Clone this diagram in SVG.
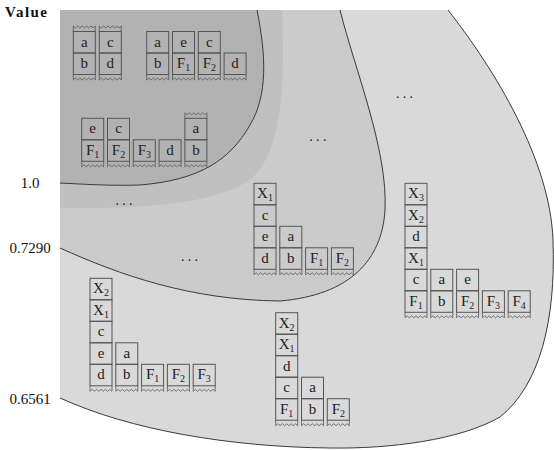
<svg xmlns="http://www.w3.org/2000/svg" xmlns:xlink="http://www.w3.org/1999/xlink" width="554" height="450" viewBox="0 0 554 450">
<defs>
<style>
.lbl{font-family:"Liberation Serif","DejaVu Serif",serif;font-size:15px;fill:#111}
.bd{fill:none;stroke:#3a3a3a;stroke-width:1}
.c{fill:none;stroke:#555555;stroke-width:1}
.z{fill:none;stroke:#555555;stroke-width:0.8}
.t{font-family:"Liberation Serif","DejaVu Serif",serif;font-size:15px;fill:#222;text-anchor:middle}
.s{font-size:10px}
.dots{font-family:"Liberation Serif",serif;font-size:14px;fill:#222;letter-spacing:3.3px}
</style>
<path id="zb" d="M0,0 V5.5 L2.2,3.5 L4.4,5.5 L6.6,3.5 L8.8,5.5 L11,3.5 L13.2,5.5 L15.4,3.5 L17.6,5.5 L19.8,3.5 L22,5.5 V0"/>
<path id="zt" d="M0,0 V-5.5 L2.2,-3.5 L4.4,-5.5 L6.6,-3.5 L8.8,-5.5 L11,-3.5 L13.2,-5.5 L15.4,-3.5 L17.6,-5.5 L19.8,-3.5 L22,-5.5 V0"/>
</defs>
<rect width="554" height="450" fill="#ffffff"/>
<g id="regions">
<path fill="#d9d9d9" d="M60,10 H448 C495,70 550,160 553,240 C556,320 540,385 500,417 C460,440 390,449 330,448 C230,447 130,430 60,398 Z"/>
<path fill="#cbcbcb" d="M60,10 H340 C355,70 388,150 385,210 C382,260 350,295 280,301 C190,300 120,275 60,248 Z"/>
<path fill="#c0c0c0" d="M60,10 H282 C285,80 283,150 252,178 C220,203 150,209 60,208 Z"/>
<path fill="#b2b2b2" d="M60,10 H257 C266,55 268,95 250,125 C230,160 200,180 140,185 C110,186 80,184 60,183 Z"/>
</g>
<g id="connectors">
<path class="bd" d="M448,10 C495,70 550,160 553,240 C556,320 540,385 500,417 C460,440 390,449 330,448 C230,447 130,430 60,398"/>
<path class="bd" d="M340,10 C355,70 388,150 385,210 C382,260 350,295 280,301 C190,300 120,275 60,248"/>
<path class="bd" d="M257,10 C266,55 268,95 250,125 C230,160 200,180 140,185 C110,186 80,184 60,183"/>
</g>
<g id="labels">
<text class="lbl" x="5" y="17" font-weight="bold" textLength="42">Value</text>
<text class="lbl" x="30" y="188" text-anchor="middle">1.0</text>
<text class="lbl" x="30" y="253" text-anchor="middle">0.7290</text>
<text class="lbl" x="30" y="404" text-anchor="middle">0.6561</text>
<text class="dots" x="115.5" y="204.5">...</text>
<text class="dots" x="181" y="261.3">...</text>
<text class="dots" x="309.3" y="140.5">...</text>
<text class="dots" x="396" y="98">...</text>
</g>
<!-- Group 1 -->
<g id="g1s1">
<use href="#zt" class="z" x="73.3" y="31.5"/>
<rect class="c" x="73.3" y="31.5" width="22" height="21.5"/><text class="t" x="84.3" y="46.5">a</text>
<rect class="c" x="73.3" y="53" width="22" height="21.5"/><text class="t" x="84.3" y="68">b</text>
<use href="#zb" class="z" x="73.3" y="74.5"/>
</g>
<g id="g1s2">
<use href="#zt" class="z" x="99.3" y="31.5"/>
<rect class="c" x="99.3" y="31.5" width="22" height="21.5"/><text class="t" x="110.3" y="46.5">c</text>
<rect class="c" x="99.3" y="53" width="22" height="21.5"/><text class="t" x="110.3" y="68">d</text>
<use href="#zb" class="z" x="99.3" y="74.5"/>
</g>
<!-- Group 2 -->
<g id="g2s1">
<rect class="c" x="146.7" y="31.5" width="22" height="21.5"/><text class="t" x="157.7" y="46.5">a</text>
<rect class="c" x="146.7" y="53" width="22" height="21.5"/><text class="t" x="157.7" y="68">b</text>
<use href="#zb" class="z" x="146.7" y="74.5"/>
</g>
<g id="g2s2">
<rect class="c" x="172.5" y="31.5" width="22" height="21.5"/><text class="t" x="183.5" y="46.5">e</text>
<rect class="c" x="172.5" y="53" width="22" height="21.5"/><text class="t" x="183.5" y="68">F<tspan class="s" dy="3">1</tspan></text>
<use href="#zb" class="z" x="172.5" y="74.5"/>
</g>
<g id="g2s3">
<rect class="c" x="198.3" y="31.5" width="22" height="21.5"/><text class="t" x="209.3" y="46.5">c</text>
<rect class="c" x="198.3" y="53" width="22" height="21.5"/><text class="t" x="209.3" y="68">F<tspan class="s" dy="3">2</tspan></text>
<use href="#zb" class="z" x="198.3" y="74.5"/>
</g>
<g id="g2s4">
<rect class="c" x="224.1" y="53" width="22" height="21.5"/><text class="t" x="235.1" y="68">d</text>
<use href="#zb" class="z" x="224.1" y="74.5"/>
</g>
<!-- Group 3 -->
<g id="g3s1">
<rect class="c" x="81.7" y="118.3" width="22" height="21.5"/><text class="t" x="92.7" y="133.3">e</text>
<rect class="c" x="81.7" y="139.8" width="22" height="21.5"/><text class="t" x="92.7" y="154.8">F<tspan class="s" dy="3">1</tspan></text>
<use href="#zb" class="z" x="81.7" y="161.3"/>
</g>
<g id="g3s2">
<rect class="c" x="107.5" y="118.3" width="22" height="21.5"/><text class="t" x="118.5" y="133.3">c</text>
<rect class="c" x="107.5" y="139.8" width="22" height="21.5"/><text class="t" x="118.5" y="154.8">F<tspan class="s" dy="3">2</tspan></text>
<use href="#zb" class="z" x="107.5" y="161.3"/>
</g>
<g id="g3s3">
<rect class="c" x="133.3" y="139.8" width="22" height="21.5"/><text class="t" x="144.3" y="154.8">F<tspan class="s" dy="3">3</tspan></text>
<use href="#zb" class="z" x="133.3" y="161.3"/>
</g>
<g id="g3s4">
<rect class="c" x="159.1" y="139.8" width="22" height="21.5"/><text class="t" x="170.1" y="154.8">d</text>
<use href="#zb" class="z" x="159.1" y="161.3"/>
</g>
<g id="g3s5">
<use href="#zt" class="z" x="184.9" y="118.3"/>
<rect class="c" x="184.9" y="118.3" width="22" height="21.5"/><text class="t" x="195.9" y="133.3">a</text>
<rect class="c" x="184.9" y="139.8" width="22" height="21.5"/><text class="t" x="195.9" y="154.8">b</text>
<use href="#zb" class="z" x="184.9" y="161.3"/>
</g>
<!-- Group 4 -->
<g id="g4s1">
<rect class="c" x="254" y="183.3" width="22" height="21.5"/><text class="t" x="265" y="198.3">X<tspan class="s" dy="3">1</tspan></text>
<rect class="c" x="254" y="204.8" width="22" height="21.5"/><text class="t" x="265" y="219.8">c</text>
<rect class="c" x="254" y="226.3" width="22" height="21.5"/><text class="t" x="265" y="241.3">e</text>
<rect class="c" x="254" y="247.8" width="22" height="21.5"/><text class="t" x="265" y="262.8">d</text>
<use href="#zb" class="z" x="254" y="269.3"/>
</g>
<g id="g4s2">
<rect class="c" x="279.8" y="226.3" width="22" height="21.5"/><text class="t" x="290.8" y="241.3">a</text>
<rect class="c" x="279.8" y="247.8" width="22" height="21.5"/><text class="t" x="290.8" y="262.8">b</text>
<use href="#zb" class="z" x="279.8" y="269.3"/>
</g>
<g id="g4s3">
<rect class="c" x="305.6" y="247.8" width="22" height="21.5"/><text class="t" x="316.6" y="262.8">F<tspan class="s" dy="3">1</tspan></text>
<use href="#zb" class="z" x="305.6" y="269.3"/>
</g>
<g id="g4s4">
<rect class="c" x="331.4" y="247.8" width="22" height="21.5"/><text class="t" x="342.4" y="262.8">F<tspan class="s" dy="3">2</tspan></text>
<use href="#zb" class="z" x="331.4" y="269.3"/>
</g>
<!-- Group 5 -->
<g id="g5s1">
<rect class="c" x="405" y="183.3" width="22" height="21.5"/><text class="t" x="416" y="198.3">X<tspan class="s" dy="3">3</tspan></text>
<rect class="c" x="405" y="204.8" width="22" height="21.5"/><text class="t" x="416" y="219.8">X<tspan class="s" dy="3">2</tspan></text>
<rect class="c" x="405" y="226.3" width="22" height="21.5"/><text class="t" x="416" y="241.3">d</text>
<rect class="c" x="405" y="247.8" width="22" height="21.5"/><text class="t" x="416" y="262.8">X<tspan class="s" dy="3">1</tspan></text>
<rect class="c" x="405" y="269.3" width="22" height="21.5"/><text class="t" x="416" y="284.3">c</text>
<rect class="c" x="405" y="290.8" width="22" height="21.5"/><text class="t" x="416" y="305.8">F<tspan class="s" dy="3">1</tspan></text>
<use href="#zb" class="z" x="405" y="312.3"/>
</g>
<g id="g5s2">
<rect class="c" x="430.8" y="269.3" width="22" height="21.5"/><text class="t" x="441.8" y="284.3">a</text>
<rect class="c" x="430.8" y="290.8" width="22" height="21.5"/><text class="t" x="441.8" y="305.8">b</text>
<use href="#zb" class="z" x="430.8" y="312.3"/>
</g>
<g id="g5s3">
<rect class="c" x="456.6" y="269.3" width="22" height="21.5"/><text class="t" x="467.6" y="284.3">e</text>
<rect class="c" x="456.6" y="290.8" width="22" height="21.5"/><text class="t" x="467.6" y="305.8">F<tspan class="s" dy="3">2</tspan></text>
<use href="#zb" class="z" x="456.6" y="312.3"/>
</g>
<g id="g5s4">
<rect class="c" x="482.4" y="290.8" width="22" height="21.5"/><text class="t" x="493.4" y="305.8">F<tspan class="s" dy="3">3</tspan></text>
<use href="#zb" class="z" x="482.4" y="312.3"/>
</g>
<g id="g5s5">
<rect class="c" x="508.2" y="290.8" width="22" height="21.5"/><text class="t" x="519.2" y="305.8">F<tspan class="s" dy="3">4</tspan></text>
<use href="#zb" class="z" x="508.2" y="312.3"/>
</g>
<!-- Group 6 -->
<g id="g6s1">
<rect class="c" x="275.7" y="312.7" width="22" height="21.5"/><text class="t" x="286.7" y="327.7">X<tspan class="s" dy="3">2</tspan></text>
<rect class="c" x="275.7" y="334.2" width="22" height="21.5"/><text class="t" x="286.7" y="349.2">X<tspan class="s" dy="3">1</tspan></text>
<rect class="c" x="275.7" y="355.7" width="22" height="21.5"/><text class="t" x="286.7" y="370.7">d</text>
<rect class="c" x="275.7" y="377.2" width="22" height="21.5"/><text class="t" x="286.7" y="392.2">c</text>
<rect class="c" x="275.7" y="398.7" width="22" height="21.5"/><text class="t" x="286.7" y="413.7">F<tspan class="s" dy="3">1</tspan></text>
<use href="#zb" class="z" x="275.7" y="420.2"/>
</g>
<g id="g6s2">
<rect class="c" x="301.5" y="377.2" width="22" height="21.5"/><text class="t" x="312.5" y="392.2">a</text>
<rect class="c" x="301.5" y="398.7" width="22" height="21.5"/><text class="t" x="312.5" y="413.7">b</text>
<use href="#zb" class="z" x="301.5" y="420.2"/>
</g>
<g id="g6s3">
<rect class="c" x="327.3" y="398.7" width="22" height="21.5"/><text class="t" x="338.3" y="413.7">F<tspan class="s" dy="3">2</tspan></text>
<use href="#zb" class="z" x="327.3" y="420.2"/>
</g>
<!-- Group 7 -->
<g id="g7s1">
<rect class="c" x="90" y="278.3" width="22" height="21.5"/><text class="t" x="101" y="293.3">X<tspan class="s" dy="3">2</tspan></text>
<rect class="c" x="90" y="299.8" width="22" height="21.5"/><text class="t" x="101" y="314.8">X<tspan class="s" dy="3">1</tspan></text>
<rect class="c" x="90" y="321.3" width="22" height="21.5"/><text class="t" x="101" y="336.3">c</text>
<rect class="c" x="90" y="342.8" width="22" height="21.5"/><text class="t" x="101" y="357.8">e</text>
<rect class="c" x="90" y="364.3" width="22" height="21.5"/><text class="t" x="101" y="379.3">d</text>
<use href="#zb" class="z" x="90" y="385.8"/>
</g>
<g id="g7s2">
<rect class="c" x="115.8" y="342.8" width="22" height="21.5"/><text class="t" x="126.8" y="357.8">a</text>
<rect class="c" x="115.8" y="364.3" width="22" height="21.5"/><text class="t" x="126.8" y="379.3">b</text>
<use href="#zb" class="z" x="115.8" y="385.8"/>
</g>
<g id="g7s3">
<rect class="c" x="141.6" y="364.3" width="22" height="21.5"/><text class="t" x="152.6" y="379.3">F<tspan class="s" dy="3">1</tspan></text>
<use href="#zb" class="z" x="141.6" y="385.8"/>
</g>
<g id="g7s4">
<rect class="c" x="167.4" y="364.3" width="22" height="21.5"/><text class="t" x="178.4" y="379.3">F<tspan class="s" dy="3">2</tspan></text>
<use href="#zb" class="z" x="167.4" y="385.8"/>
</g>
<g id="g7s5">
<rect class="c" x="193.2" y="364.3" width="22" height="21.5"/><text class="t" x="204.2" y="379.3">F<tspan class="s" dy="3">3</tspan></text>
<use href="#zb" class="z" x="193.2" y="385.8"/>
</g>
</svg>
